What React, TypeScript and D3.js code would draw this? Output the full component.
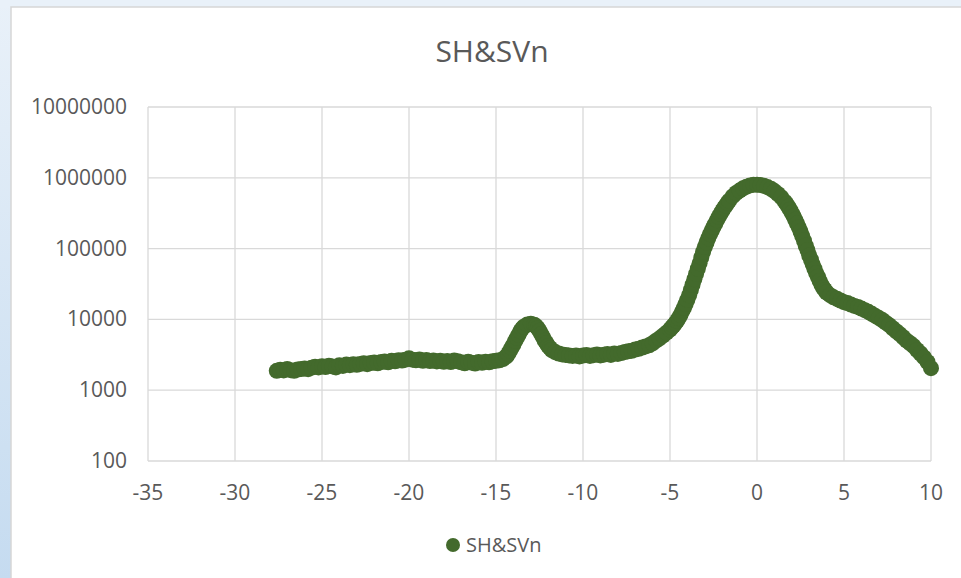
import React from "react";
import * as d3 from "d3";

const seriesName = "SH&SVn";

// Main series sampled at 0.2 steps: [x, intensity]
const points: [number, number][] = [
  [-27.6, 1880], [-27.4, 1950], [-27.2, 1900], [-27.0, 2000], [-26.8, 1920],
  [-26.6, 1880], [-26.4, 1960], [-26.2, 1990], [-26.0, 2020], [-25.8, 1980],
  [-25.6, 2080], [-25.4, 2150], [-25.2, 2100], [-25.0, 2180], [-24.8, 2120],
  [-24.6, 2220], [-24.4, 2170], [-24.2, 2100], [-24.0, 2250], [-23.8, 2200],
  [-23.6, 2300], [-23.4, 2260], [-23.2, 2320], [-23.0, 2280], [-22.8, 2350],
  [-22.6, 2400], [-22.4, 2330], [-22.2, 2420], [-22.0, 2460], [-21.8, 2400],
  [-21.6, 2500], [-21.4, 2550], [-21.2, 2480], [-21.0, 2600], [-20.8, 2560],
  [-20.6, 2650], [-20.4, 2620], [-20.2, 2700], [-20.0, 2820], [-19.8, 2700],
  [-19.6, 2640], [-19.4, 2720], [-19.2, 2600], [-19.0, 2680], [-18.8, 2580],
  [-18.6, 2620], [-18.4, 2550], [-18.2, 2600], [-18.0, 2520], [-17.8, 2580],
  [-17.6, 2500], [-17.4, 2620], [-17.2, 2560], [-17.0, 2480], [-16.8, 2400],
  [-16.6, 2520], [-16.4, 2450], [-16.2, 2380], [-16.0, 2500], [-15.8, 2440],
  [-15.6, 2520], [-15.4, 2480], [-15.2, 2560], [-15.0, 2600], [-14.8, 2650],
  [-14.6, 2750], [-14.4, 3000], [-14.2, 3600], [-14.0, 4400], [-13.8, 5500],
  [-13.6, 6800], [-13.4, 7900], [-13.2, 8500], [-13.0, 8700], [-12.8, 8400],
  [-12.6, 7500], [-12.4, 6200], [-12.2, 5000], [-12.0, 4200], [-11.8, 3700],
  [-11.6, 3450], [-11.4, 3300], [-11.2, 3200], [-11.0, 3150], [-10.8, 3100],
  [-10.6, 3050], [-10.4, 3100], [-10.2, 3000], [-10.0, 3080], [-9.8, 3150],
  [-9.6, 3050], [-9.4, 3120], [-9.2, 3200], [-9.0, 3100], [-8.8, 3180],
  [-8.6, 3250], [-8.4, 3150], [-8.2, 3300], [-8.0, 3250], [-7.8, 3350],
  [-7.6, 3450], [-7.4, 3550], [-7.2, 3600], [-7.0, 3750], [-6.8, 3850],
  [-6.6, 4000], [-6.4, 4150], [-6.2, 4300], [-6.0, 4600], [-5.8, 5000],
  [-5.6, 5400], [-5.4, 5900], [-5.2, 6500], [-5.0, 7200], [-4.8, 8200],
  [-4.6, 9500], [-4.4, 11500], [-4.2, 14500], [-4.0, 19000], [-3.8, 26000],
  [-3.6, 37000], [-3.4, 52000], [-3.2, 75000], [-3.0, 105000], [-2.8, 140000],
  [-2.6, 180000], [-2.4, 225000], [-2.2, 280000], [-2.0, 340000], [-1.8, 405000],
  [-1.6, 475000], [-1.4, 545000], [-1.2, 610000], [-1.0, 660000], [-0.8, 710000],
  [-0.6, 750000], [-0.4, 780000], [-0.2, 795000], [0.0, 800000], [0.2, 790000],
  [0.4, 770000], [0.6, 740000], [0.8, 700000], [1.0, 650000], [1.2, 590000],
  [1.4, 530000], [1.6, 460000], [1.8, 390000], [2.0, 320000], [2.2, 255000],
  [2.4, 200000], [2.6, 150000], [2.8, 110000], [3.0, 80000], [3.2, 60000],
  [3.4, 45000], [3.6, 35000], [3.8, 28000], [4.0, 24000], [4.2, 22000],
  [4.4, 20500], [4.6, 19500], [4.8, 18500], [5.0, 17500], [5.2, 17000],
  [5.4, 16200], [5.6, 15500], [5.8, 15000], [6.0, 14200], [6.2, 13500],
  [6.4, 12800], [6.6, 12000], [6.8, 11200], [7.0, 10500], [7.2, 9800],
  [7.4, 9000], [7.6, 8300], [7.8, 7500], [8.0, 6800], [8.2, 6200],
  [8.4, 5600], [8.6, 5000], [8.8, 4600], [9.0, 4200], [9.2, 3700],
  [9.4, 3300], [9.6, 2900], [9.8, 2500], [10.0, 2050],
];

// Extra samples taken at 0.1 steps where the signal changes quickly
const densePoints: [number, number][] = [
  [-14.3, 3250], [-14.1, 4000], [-13.9, 4950], [-13.7, 6100], [-13.5, 7400],
  [-12.7, 8000], [-12.5, 6900], [-12.3, 5600], [-12.1, 4600], [-11.9, 3950],
  [-4.9, 7700], [-4.7, 8800], [-4.5, 10400], [-4.3, 13000], [-4.1, 16500],
  [-3.9, 22000], [-3.7, 31000], [-3.5, 44000], [-3.3, 62000], [-3.1, 90000],
  [-2.9, 122000], [-2.7, 160000], [-2.5, 202000], [-2.3, 252000], [-2.1, 310000],
  [-1.9, 372000], [-1.7, 440000],
  [1.7, 425000], [1.9, 355000], [2.1, 287000], [2.3, 227000], [2.5, 175000],
  [2.7, 130000], [2.9, 95000], [3.1, 70000], [3.3, 52000], [3.5, 40000],
  [3.7, 31000], [3.9, 26000],
];

const xTicks = [-35, -30, -25, -20, -15, -10, -5, 0, 5, 10];
const yTicks = [100, 1000, 10000, 100000, 1000000, 10000000];

const W = 961;
const H = 578;
const plot = { left: 148, right: 931, top: 107, bottom: 461 };
const FONT = "'Open Sans', sans-serif";
const TEXT = "#595959";
const GRID = "#d9d9d9";
const MARK = "#436a2c";

export default function App() {
  const x = d3.scaleLinear().domain([-35, 10]).range([plot.left, plot.right]);
  const y = d3.scaleLog().domain([100, 10000000]).range([plot.bottom, plot.top]);
  const all = points.concat(densePoints).sort((a, b) => a[0] - b[0]);

  return (
    <svg
      width={W}
      height={H}
      style={{ position: "absolute", left: 0, top: 0, display: "block" }}
    >
      <defs>
        <linearGradient id="edge" x1="0" y1="0" x2="0" y2="1">
          <stop offset="0" stopColor="#e9f1f9" />
          <stop offset="1" stopColor="#c5dbf0" />
        </linearGradient>
      </defs>
      <rect x={0} y={0} width={W} height={H} fill="url(#edge)" />
      <rect x={0} y={0} width={W} height={8} fill="#e9f1f9" />
      <rect x={11} y={7} width={W} height={H} fill="#ffffff" stroke="#d6d6d6" strokeWidth={1.5} />

      <text x={492} y={62} textAnchor="middle" fontFamily={FONT} fontSize={30} fill={TEXT}>
        {seriesName}
      </text>

      {xTicks.map((t) => (
        <line key={"gx" + t} x1={x(t)} x2={x(t)} y1={plot.top} y2={plot.bottom} stroke={GRID} strokeWidth={1.3} />
      ))}
      {yTicks.map((t) => (
        <line key={"gy" + t} x1={plot.left} x2={plot.right} y1={y(t)} y2={y(t)} stroke={GRID} strokeWidth={1.3} />
      ))}

      {yTicks.map((t) => (
        <text
          key={"ty" + t}
          x={127}
          y={y(t) + 7}
          textAnchor="end"
          fontFamily={FONT}
          fontSize={21}
          fill={TEXT}
        >
          {String(t)}
        </text>
      ))}
      {xTicks.map((t) => (
        <text
          key={"tx" + t}
          x={x(t)}
          y={500}
          textAnchor="middle"
          fontFamily={FONT}
          fontSize={21}
          fill={TEXT}
        >
          {String(t)}
        </text>
      ))}

      {all.map(([px, py], i) => (
        <circle key={i} cx={x(px)} cy={y(py)} r={8} fill={MARK} />
      ))}

      <circle cx={453} cy={545} r={7} fill={MARK} />
      <text x={466} y={552} fontFamily={FONT} fontSize={20} fill={TEXT}>
        {seriesName}
      </text>
    </svg>
  );
}
